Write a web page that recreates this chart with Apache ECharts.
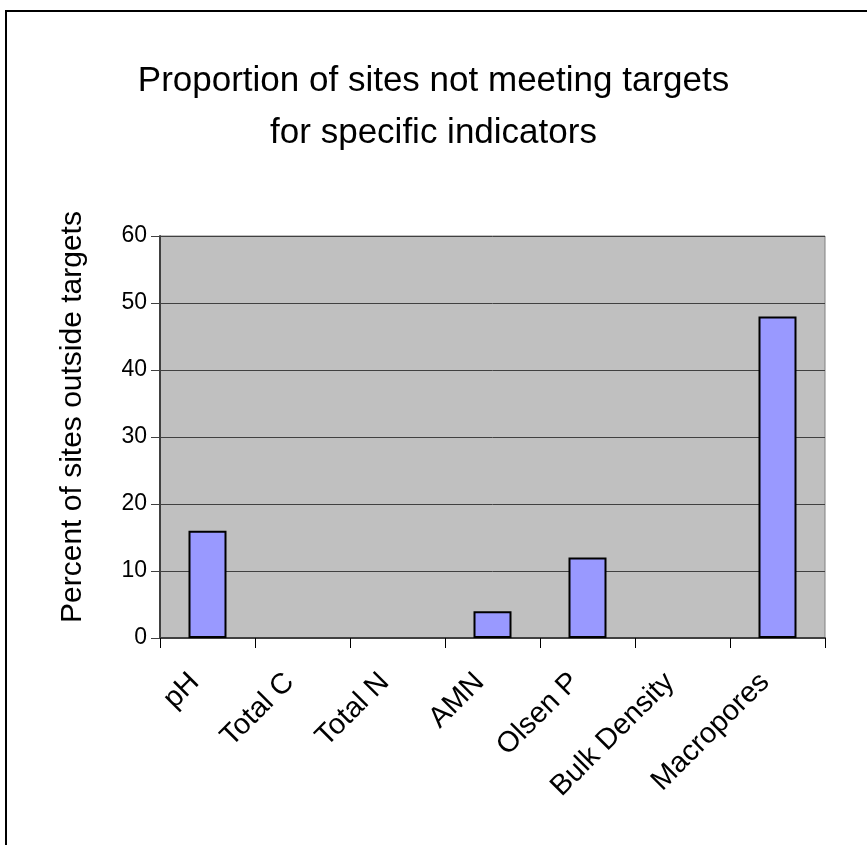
<!DOCTYPE html>
<html>
<head>
<meta charset="utf-8">
<script src="https://cdn.jsdelivr.net/npm/echarts@6/dist/echarts.min.js"></script>
<style>
html,body{margin:0;padding:0;background:#fff;}
#chart{width:867px;height:845px;}
</style>
</head>
<body>
<div id="chart"></div>
<script>
const categories = ['pH', 'Total C', 'Total N', 'AMN', 'Olsen P', 'Bulk Density', 'Macropores'];
const values = [16, 0, 0, 4, 12, 0, 48];
const yTicks = [0, 10, 20, 30, 40, 50, 60];
const titleText = 'Proportion of sites not meeting targets\nfor specific indicators';
const yAxisTitle = 'Percent of sites outside targets';

const FONT = '"Liberation Sans", Arial, sans-serif';
const chart = echarts.init(document.getElementById('chart'), null, {renderer: 'canvas'});
chart.setOption({
  backgroundColor: '#ffffff',
  animation: false,
  graphic: [{
    type: 'rect', z: 100, silent: true,
    shape: {x: 6, y: 11, width: 1000, height: 1000},
    style: {fill: 'none', stroke: '#000', lineWidth: 2}
  }],
  title: {
    text: titleText,
    left: 'center',
    top: 50,
    textStyle: {fontFamily: FONT, fontSize: 35, fontWeight: 'normal', color: '#000', lineHeight: 52}
  },
  grid: {
    left: 160, right: 42, top: 236, bottom: 207,
    show: true, backgroundColor: '#C0C0C0', borderColor: '#808080', borderWidth: 1
  },
  xAxis: {
    type: 'category',
    data: categories,
    axisLine: {lineStyle: {color: '#404040', width: 2}},
    axisTick: {show: true, length: 10, lineStyle: {color: '#000', width: 1}},
    axisLabel: {rotate: 45, margin: 27, padding: [0, 18, 0, 0], fontFamily: FONT, fontSize: 29, color: '#000'}
  },
  yAxis: {
    type: 'value',
    min: yTicks[0], max: yTicks[yTicks.length - 1], interval: 10,
    name: yAxisTitle,
    nameLocation: 'middle',
    nameRotate: 90,
    nameGap: 72,
    nameTextStyle: {fontFamily: FONT, fontSize: 30, color: '#000', padding: [0, 0, 0, 40]},
    axisLine: {show: true, lineStyle: {color: '#404040', width: 2}},
    axisTick: {show: true, length: 9, lineStyle: {color: '#404040'}},
    axisLabel: {margin: 13, fontFamily: FONT, fontSize: 23, color: '#000'},
    splitLine: {show: true, lineStyle: {color: '#404040', width: 1}}
  },
  series: [{
    type: 'bar',
    data: values.map(v => v === 0 ? {value: v, itemStyle: {borderWidth: 0}} : v),
    barWidth: '40%',
    itemStyle: {color: '#9999FF', borderColor: '#000', borderWidth: 2}
  }]
});
</script>
</body>
</html>
